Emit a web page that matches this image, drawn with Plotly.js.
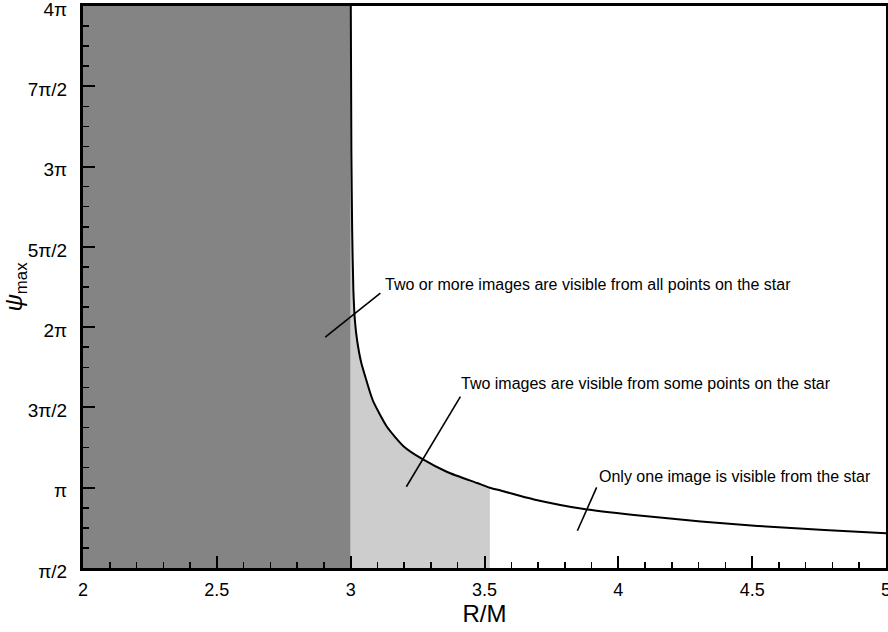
<!DOCTYPE html>
<html>
<head>
<meta charset="utf-8">
<script src="https://cdn.plot.ly/plotly-3.0.1.min.js"></script>
<style>
  html, body { margin: 0; padding: 0; background: #ffffff; }
  #chart { width: 888px; height: 632px; }
</style>
</head>
<body>
<div id="chart"></div>
<script>
// Maximum bending angle psi_max (in units of pi) versus stellar radius R/M
const rOverM = [3.0005, 3.0026, 3.0056, 3.0101, 3.0157, 3.0239, 3.0389, 3.0550, 3.0737, 3.0861,
                3.1362, 3.1983, 3.2671, 3.3607, 3.4729, 3.52, 3.5600, 3.6348, 3.6846, 3.8717,
                4.0587, 4.3082, 4.5204, 4.7696, 5.0];
const psiMaxOverPi = [4.0, 3.103, 2.605, 2.231, 2.044, 1.920, 1.783, 1.689, 1.587, 1.531,
                      1.378, 1.257, 1.179, 1.098, 1.029, 1.0, 0.983, 0.948, 0.927, 0.867,
                      0.830, 0.790, 0.762, 0.737, 0.716];

// Radius at which psi_max = pi (edge of the two-image region)
const rTwoImages = 3.52;

// Photon-sphere region R/M < 3
const darkRegionX = [2, 3];
const darkRegionY = [4, 4];

// Tick labels
const yTickVals = [0.5, 1, 1.5, 2, 2.5, 3, 3.5, 4];
const yTickText = ['π/2', 'π', '3π/2', '2π', '5π/2', '3π', '7π/2', '4π'];
const xTickVals = [2, 2.5, 3, 3.5, 4, 4.5, 5];
const xTickText = ['2', '2.5', '3', '3.5', '4', '4.5', '5'];

// Region labels and the points their leader lines point to
const labelText = [
  'Two or more images are visible from all points on the star',
  'Two images are visible from some points on the star',
  'Only one image is visible from the star'
];
const labelX = [3.122, 3.403, 3.919];
const labelY = [2.268, 1.652, 1.067];
const leaderFromX = [3.111, 3.410, 3.919];
const leaderFromY = [2.212, 1.567, 1.002];
const leaderToX = [2.905, 3.208, 3.847];
const leaderToY = [1.938, 1.006, 0.732];

// Light region: under the curve from R = 3M up to rTwoImages
const lightX = [3];
const lightY = [4];
rOverM.forEach((r, i) => {
  if (r <= rTwoImages) { lightX.push(r); lightY.push(psiMaxOverPi[i]); }
});

const FONT = '"Liberation Sans", Arial, Helvetica, sans-serif';

const traces = [
  {
    x: darkRegionX, y: darkRegionY, type: 'scatter', mode: 'lines',
    fill: 'tozeroy', fillcolor: 'rgb(132,132,132)',
    line: { width: 0, color: 'rgba(0,0,0,0)' }, hoverinfo: 'skip'
  },
  {
    x: lightX, y: lightY, type: 'scatter', mode: 'lines',
    fill: 'tozeroy', fillcolor: 'rgb(205,205,205)',
    line: { width: 0, color: 'rgba(0,0,0,0)' }, hoverinfo: 'skip'
  },
  {
    x: rOverM, y: psiMaxOverPi, type: 'scatter', mode: 'lines',
    line: { color: '#000000', width: 2, shape: 'spline', smoothing: 0.6 }
  }
];

const annotations = labelText.map((t, i) => ({
  x: labelX[i], y: labelY[i], xref: 'x', yref: 'y',
  text: t, showarrow: false, xanchor: 'left', yanchor: 'middle',
  font: { family: FONT, size: 16, color: '#000000' }
}));

const shapes = labelText.map((t, i) => ({
  type: 'line', xref: 'x', yref: 'y',
  x0: leaderFromX[i], y0: leaderFromY[i], x1: leaderToX[i], y1: leaderToY[i],
  line: { color: '#000000', width: 1.6 }
}));

const layout = {
  width: 888, height: 632,
  margin: { l: 83, r: 2, t: 6, b: 64 },
  paper_bgcolor: '#ffffff', plot_bgcolor: '#ffffff',
  showlegend: false,
  font: { family: FONT, color: '#000000' },
  xaxis: {
    range: [2, 5], tickmode: 'array', tickvals: xTickVals, ticktext: xTickText,
    ticks: 'inside', ticklen: 12, tickwidth: 2, tickcolor: '#000000',
    minor: { ticks: 'inside', ticklen: 6, tickwidth: 1.5, tickcolor: '#000000', dtick: 0.1, tick0: 2, showgrid: false },
    showline: true, linewidth: 3, linecolor: '#000000', mirror: true,
    showgrid: false, zeroline: false,
    ticklabeloverflow: 'allow', ticklabelstandoff: 3,
    tickfont: { family: FONT, size: 18, color: '#000000' },
    title: { text: 'R/M', font: { family: FONT, size: 24, color: '#000000' }, standoff: 2 }
  },
  yaxis: {
    range: [0.5, 4], tickmode: 'array', tickvals: yTickVals, ticktext: yTickText,
    ticks: 'inside', ticklen: 12, tickwidth: 2, tickcolor: '#000000',
    minor: { ticks: 'inside', ticklen: 6, tickwidth: 1.5, tickcolor: '#000000', dtick: 0.125, tick0: 0.5, showgrid: false },
    showline: true, linewidth: 3, linecolor: '#000000', mirror: true,
    showgrid: false, zeroline: false,
    ticklabeloverflow: 'allow', ticklabelstandoff: 9, ticklabelshift: 3,
    tickfont: { family: FONT, size: 19, color: '#000000' },
    title: { text: '<i>ψ</i><sub>max</sub>', font: { family: FONT, size: 24, color: '#000000' }, standoff: 0 }
  },
  annotations: annotations,
  shapes: shapes
};

Plotly.newPlot('chart', traces, layout, { displayModeBar: false, staticPlot: true });
</script>
</body>
</html>
